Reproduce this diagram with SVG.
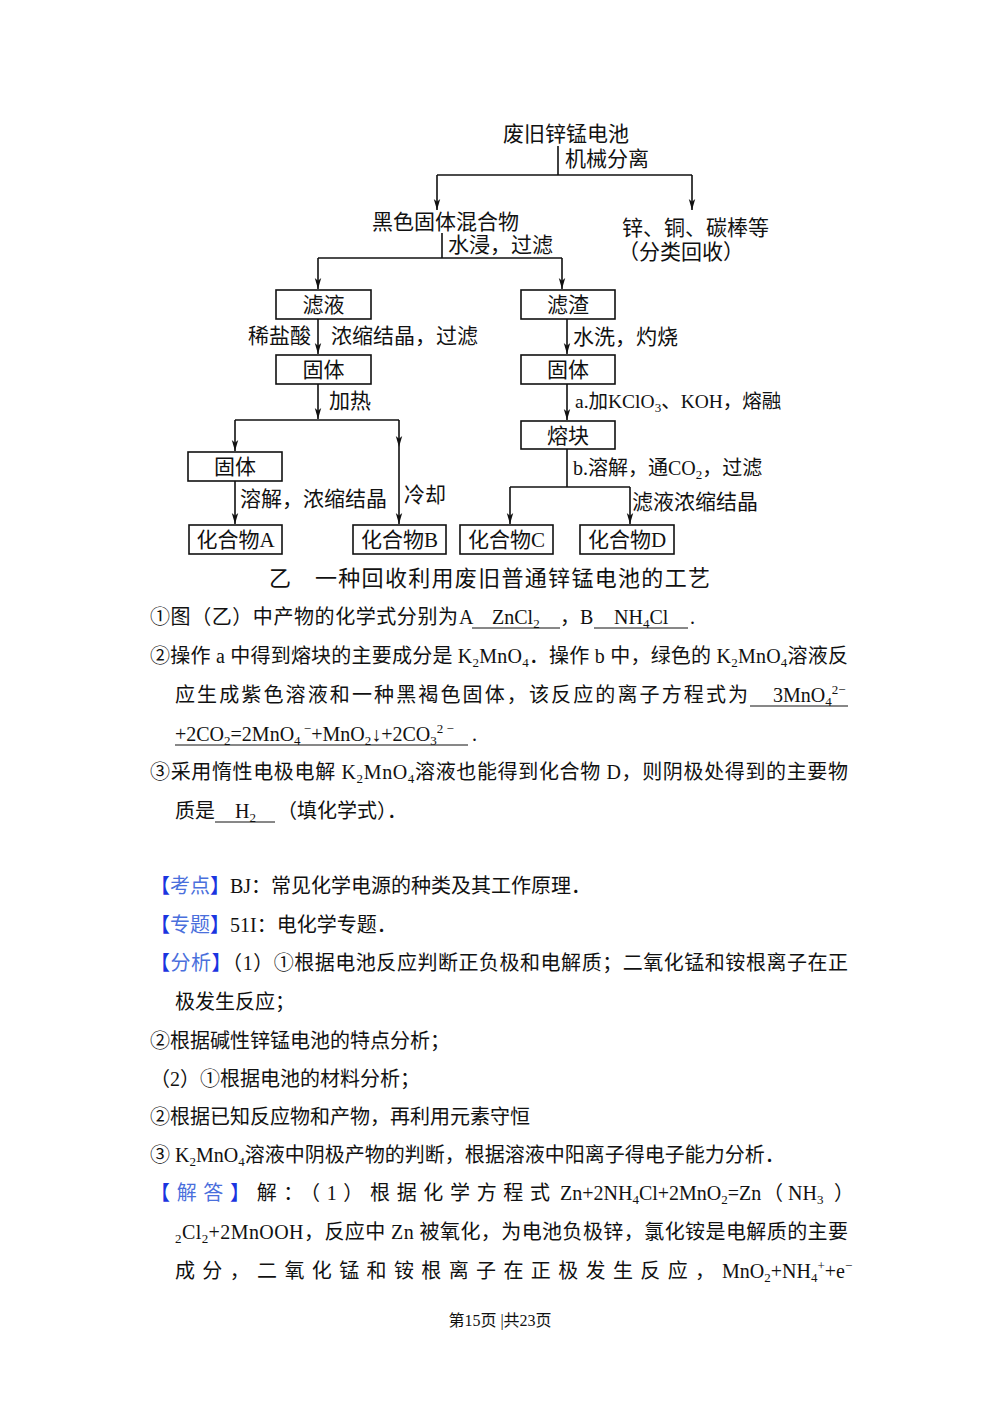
<svg xmlns="http://www.w3.org/2000/svg" width="1000" height="1414" viewBox="0 0 1000 1414">
<style>
.d{font-family:"Liberation Serif","Noto Sans CJK SC",serif;font-size:21px;fill:#111}
.dc{text-anchor:middle}
.t{font-family:"Liberation Serif","Noto Sans CJK SC",serif;font-size:20px;fill:#111}
.box{fill:#fff;stroke:#111;stroke-width:1.6}
.ln{stroke:#111;stroke-width:1.6;fill:none}
.ar{stroke:#111;stroke-width:1.6;fill:none;marker-end:url(#ah)}
.ul{stroke:#111;stroke-width:1}
.bk{fill:#1a35e0}
.bt{fill:#4a6fdc}
</style>
<defs>
<marker id="ah" viewBox="0 0 12 8" refX="12" refY="4" markerWidth="11" markerHeight="8" markerUnits="userSpaceOnUse" orient="auto">
<path d="M0,0.5 L12,4 L0,7.5 L3,4 z" fill="#111"/>
</marker>
</defs>
<rect width="1000" height="1414" fill="#fff"/>

<g id="connectors">
<line class="ln" x1="558" y1="146" x2="558" y2="175"/>
<line class="ln" x1="437" y1="175" x2="692" y2="175"/>
<line class="ar" x1="437" y1="175" x2="437" y2="210"/>
<line class="ar" x1="692" y1="175" x2="692" y2="210"/>
<line class="ln" x1="442" y1="233" x2="442" y2="258"/>
<line class="ln" x1="318" y1="258" x2="562" y2="258"/>
<line class="ar" x1="318" y1="258" x2="318" y2="289"/>
<line class="ar" x1="562" y1="258" x2="562" y2="289"/>
<line class="ar" x1="318" y1="319" x2="318" y2="354"/>
<line class="ar" x1="567" y1="319" x2="567" y2="354"/>
<line class="ar" x1="318" y1="384" x2="318" y2="419"/>
<line class="ln" x1="235" y1="420" x2="399" y2="420"/>
<line class="ar" x1="235" y1="420" x2="235" y2="451"/>
<line class="ar" x1="399" y1="420" x2="399" y2="447"/>
<line class="ar" x1="399" y1="447" x2="399" y2="524"/>
<line class="ar" x1="567" y1="384" x2="567" y2="420"/>
<line class="ar" x1="235" y1="481" x2="235" y2="524"/>
<line class="ln" x1="567" y1="449" x2="567" y2="487"/>
<line class="ln" x1="510" y1="487" x2="630" y2="487"/>
<line class="ar" x1="510" y1="487" x2="510" y2="524"/>
<line class="ar" x1="630" y1="487" x2="630" y2="524"/>
</g>

<g id="edge-labels">
<text class="d" x="565" y="166">机械分离</text>
<text class="d" x="448" y="252">水浸，过滤</text>
<text class="d" x="248" y="343">稀盐酸</text>
<text class="d" x="331" y="343">浓缩结晶，过滤</text>
<text class="d" x="573" y="344">水洗，灼烧</text>
<text class="d" x="329" y="408">加热</text>
<text class="d" x="575" y="408" style="font-size:19.5px">a.加KClO<tspan font-size="13" dy="4">3</tspan><tspan dy="-4">、KOH，熔融</tspan></text>
<text class="d" x="240" y="506">溶解，浓缩结晶</text>
<text class="d" x="404" y="502">冷却</text>
<text class="d" x="573" y="475" style="font-size:20px">b.溶解，通CO<tspan font-size="13" dy="4">2</tspan><tspan dy="-4">，过滤</tspan></text>
<text class="d" x="632" y="509">滤液浓缩结晶</text>
</g>

<g id="n-battery"><text class="d" x="503" y="141">废旧锌锰电池</text></g>
<g id="n-black"><text class="d" x="372" y="229">黑色固体混合物</text></g>
<g id="n-metal"><text class="d" x="622" y="235">锌、铜、碳棒等</text><text class="d" x="618" y="259">（分类回收）</text></g>
<g id="n-filtrate"><rect class="box" x="276" y="290" width="95" height="29"/><text class="d dc" x="323.5" y="312">滤液</text></g>
<g id="n-residue"><rect class="box" x="521" y="290" width="94" height="29"/><text class="d dc" x="568" y="312">滤渣</text></g>
<g id="n-solid1"><rect class="box" x="276" y="355" width="95" height="29"/><text class="d dc" x="323.5" y="377">固体</text></g>
<g id="n-solid2"><rect class="box" x="521" y="355" width="94" height="29"/><text class="d dc" x="568" y="377">固体</text></g>
<g id="n-melt"><rect class="box" x="521" y="421" width="94" height="28"/><text class="d dc" x="568" y="443">熔块</text></g>
<g id="n-solid3"><rect class="box" x="188" y="452" width="94" height="29"/><text class="d dc" x="235" y="474">固体</text></g>
<g id="n-A"><rect class="box" x="189" y="525" width="93" height="29"/><text class="d dc" x="235.5" y="547">化合物A</text></g>
<g id="n-B"><rect class="box" x="353" y="525" width="93" height="29"/><text class="d dc" x="399.5" y="547">化合物B</text></g>
<g id="n-C"><rect class="box" x="460" y="525" width="93" height="29"/><text class="d dc" x="506.5" y="547">化合物C</text></g>
<g id="n-D"><rect class="box" x="580" y="525" width="94" height="29"/><text class="d dc" x="627" y="547">化合物D</text></g>

<g id="caption">
<text class="d" x="269" y="586" style="font-size:22px">乙</text>
<text class="d" x="315" y="586" style="font-size:22px" textLength="395" lengthAdjust="spacing">一种回收利用废旧普通锌锰电池的工艺</text>
</g>

<g id="body">
<text class="t" x="150" y="624" textLength="308" lengthAdjust="spacing">①图（乙）中产物的化学式分别为</text>
<text class="t" x="459" y="624">A</text>
<line class="ul" x1="472" y1="628" x2="560" y2="628"/>
<text class="t" x="492" y="624">ZnCl<tspan font-size="13" dy="4">2</tspan></text>
<text class="t" x="560" y="624">，B</text>
<line class="ul" x1="594" y1="628" x2="688" y2="628"/>
<text class="t" x="614" y="624">NH<tspan font-size="13" dy="4">4</tspan><tspan dy="-4">Cl</tspan></text>
<text class="t" x="690" y="624">.</text>

<text class="t" x="150" y="663" textLength="698" lengthAdjust="spacing">②操作 a 中得到熔块的主要成分是 K<tspan font-size="13" dy="4">2</tspan><tspan dy="-4">MnO</tspan><tspan font-size="13" dy="4">4</tspan><tspan dy="-4">．操作 b 中，绿色的 K</tspan><tspan font-size="13" dy="4">2</tspan><tspan dy="-4">MnO</tspan><tspan font-size="13" dy="4">4</tspan><tspan dy="-4">溶液反</tspan></text>

<text class="t" x="175" y="702" textLength="573" lengthAdjust="spacing">应生成紫色溶液和一种黑褐色固体，该反应的离子方程式为</text>
<line class="ul" x1="750" y1="706" x2="848" y2="706"/>
<text class="t" x="773" y="702">3MnO<tspan font-size="13" dy="4">4</tspan><tspan font-size="13" dy="-12">2−</tspan></text>

<line class="ul" x1="175" y1="745" x2="468" y2="745"/>
<text class="t" x="175" y="741">+2CO<tspan font-size="13" dy="4">2</tspan><tspan dy="-4">=2MnO</tspan><tspan font-size="13" dy="4">4</tspan><tspan font-size="13" dy="-12"> −</tspan><tspan dy="8">+MnO</tspan><tspan font-size="13" dy="4">2</tspan><tspan dy="-4">↓+2CO</tspan><tspan font-size="13" dy="4">3</tspan><tspan font-size="13" dy="-12">2 −</tspan></text>
<text class="t" x="472" y="741">.</text>

<text class="t" x="150" y="779" textLength="698" lengthAdjust="spacing">③采用惰性电极电解 K<tspan font-size="13" dy="4">2</tspan><tspan dy="-4">MnO</tspan><tspan font-size="13" dy="4">4</tspan><tspan dy="-4">溶液也能得到化合物 D，则阴极处得到的主要物</tspan></text>

<text class="t" x="175" y="818">质是</text>
<line class="ul" x1="215" y1="822" x2="275" y2="822"/>
<text class="t" x="235" y="818">H<tspan font-size="13" dy="4">2</tspan></text>
<text class="t" x="277" y="818">（填化学式）．</text>

<text class="t" x="150" y="893"><tspan class="bk">【</tspan><tspan class="bt">考点</tspan><tspan class="bk">】</tspan>BJ：常见化学电源的种类及其工作原理．</text>
<text class="t" x="150" y="932"><tspan class="bk">【</tspan><tspan class="bt">专题</tspan><tspan class="bk">】</tspan>51I：电化学专题．</text>
<text class="t" x="150" y="970" textLength="698" lengthAdjust="spacing"><tspan class="bk">【</tspan><tspan class="bt">分析</tspan><tspan class="bk">】</tspan>（1）①根据电池反应判断正负极和电解质；二氧化锰和铵根离子在正</text>
<text class="t" x="175" y="1009">极发生反应；</text>
<text class="t" x="150" y="1048">②根据碱性锌锰电池的特点分析；</text>
<text class="t" x="150" y="1086">（2）①根据电池的材料分析；</text>
<text class="t" x="150" y="1124">②根据已知反应物和产物，再利用元素守恒</text>
<text class="t" x="150" y="1162">③ K<tspan font-size="13" dy="4">2</tspan><tspan dy="-4">MnO</tspan><tspan font-size="13" dy="4">4</tspan><tspan dy="-4">溶液中阴极产物的判断，根据溶液中阳离子得电子能力分析．</tspan></text>

<text class="t" x="150" y="1200" textLength="400" lengthAdjust="spacing"><tspan class="bk">【</tspan><tspan class="bt">解答</tspan><tspan class="bk">】</tspan>解：（1）根据化学方程式</text>
<text class="t" x="560" y="1200">Zn+2NH<tspan font-size="13" dy="4">4</tspan><tspan dy="-4">Cl+2MnO</tspan><tspan font-size="13" dy="4">2</tspan><tspan dy="-4">=Zn</tspan></text>
<text class="t" x="763" y="1200">（</text>
<text class="t" x="788" y="1200">NH<tspan font-size="13" dy="4">3</tspan></text>
<text class="t" x="834" y="1200">）</text>

<text class="t" x="175" y="1239" textLength="673" lengthAdjust="spacing"><tspan font-size="13" dy="4">2</tspan><tspan dy="-4">Cl</tspan><tspan font-size="13" dy="4">2</tspan><tspan dy="-4">+2MnOOH，反应中 Zn 被氧化，为电池负极锌，氯化铵是电解质的主要</tspan></text>

<text class="t" x="175" y="1278" textLength="540" lengthAdjust="spacing">成分，二氧化锰和铵根离子在正极发生反应，</text>
<text class="t" x="722" y="1278">MnO<tspan font-size="13" dy="4">2</tspan><tspan dy="-4">+NH</tspan><tspan font-size="13" dy="4">4</tspan><tspan font-size="13" dy="-12">+</tspan><tspan dy="8">+e</tspan><tspan font-size="13" dy="-8">−</tspan></text>

<text class="t" x="500" y="1326" style="font-size:16px" text-anchor="middle">第15页 |共23页</text>
</g>
</svg>
